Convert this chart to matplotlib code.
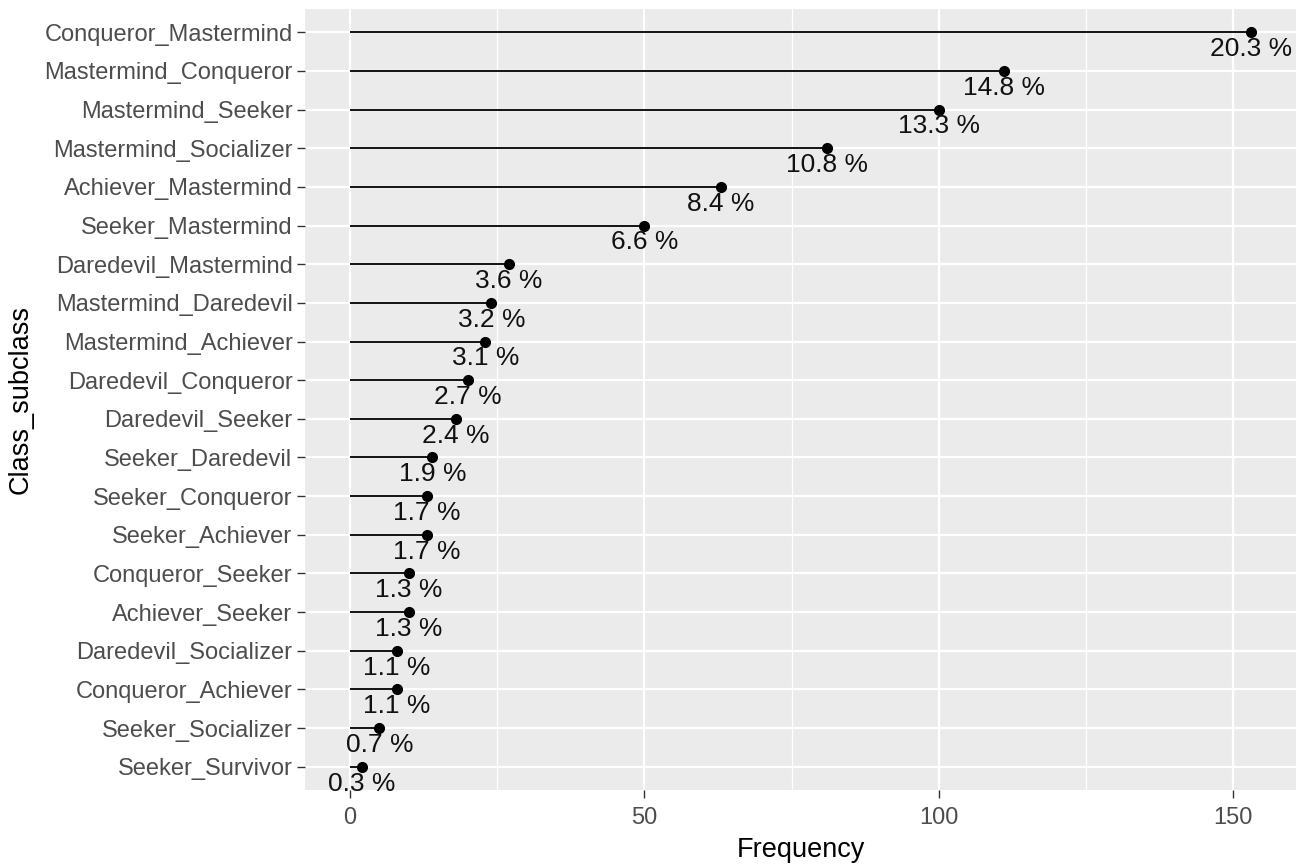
import matplotlib
matplotlib.use("Agg")
from matplotlib import pyplot as plt
from matplotlib.ticker import MultipleLocator

# data, top row first
subclasses = ["Conqueror_Mastermind", "Mastermind_Conqueror", "Mastermind_Seeker",
              "Mastermind_Socializer", "Achiever_Mastermind", "Seeker_Mastermind",
              "Daredevil_Mastermind", "Mastermind_Daredevil", "Mastermind_Achiever",
              "Daredevil_Conqueror", "Daredevil_Seeker", "Seeker_Daredevil",
              "Seeker_Conqueror", "Seeker_Achiever", "Conqueror_Seeker",
              "Achiever_Seeker", "Daredevil_Socializer", "Conqueror_Achiever",
              "Seeker_Socializer", "Seeker_Survivor"]
frequency = [153, 111, 100, 81, 63, 50, 27, 24, 23, 20, 18, 14, 13, 13, 10, 10, 8, 8, 5, 2]
percent = ["20.3", "14.8", "13.3", "10.8", "8.4", "6.6", "3.6", "3.2", "3.1", "2.7",
           "2.4", "1.9", "1.7", "1.7", "1.3", "1.3", "1.1", "1.1", "0.7", "0.3"]

plt.rcParams['font.family'] = ['Liberation Sans', 'DejaVu Sans']

fig = plt.figure(figsize=(13.01, 8.65), dpi=100)
ax = fig.add_axes([305/1301, 1 - 790/865, (1296 - 305)/1301, (790 - 9)/865])

n = len(subclasses)
ypos = list(range(n, 0, -1))  # top row gets the highest position

ax.set_facecolor('#EBEBEB')
ax.xaxis.set_major_locator(MultipleLocator(50))
ax.xaxis.set_minor_locator(MultipleLocator(25))
ax.grid(which='major', color='white', linewidth=1.6)
ax.grid(which='minor', axis='x', color='white', linewidth=0.9)
ax.set_axisbelow(True)
for s in ax.spines.values():
    s.set_visible(False)

# lollipops
ax.hlines(ypos, 0, frequency, color='black', linewidth=1.3, zorder=3)
ax.plot(frequency, ypos, 'o', color='black', markersize=7, zorder=4)
for f, y, p in zip(frequency, ypos, percent):
    ax.annotate(p + " %", (f, y), xytext=(0, -3.5), textcoords='offset points',
                ha='center', va='top', fontsize=19, color='#111111', zorder=5)

lo, hi = 0, max(frequency)
ax.set_xlim(lo - 0.05 * (hi - lo), hi + 0.05 * (hi - lo))
ax.set_ylim(0.4, n + 0.6)
ax.set_yticks(ypos)
ax.set_yticklabels(subclasses)

ax.tick_params(which='major', length=5.5, width=1.0, color='#333333',
               labelsize=17, labelcolor='#4D4D4D')
ax.tick_params(axis='x', which='major', pad=6.5)
ax.tick_params(axis='y', which='major', pad=3.5)
ax.tick_params(which='minor', length=0)

ax.set_xlabel('Frequency', fontsize=19.5, color='black', labelpad=6)
ax.set_ylabel('Class_subclass', fontsize=19.5, color='black', labelpad=8)

fig.savefig('out.png', dpi=100)
